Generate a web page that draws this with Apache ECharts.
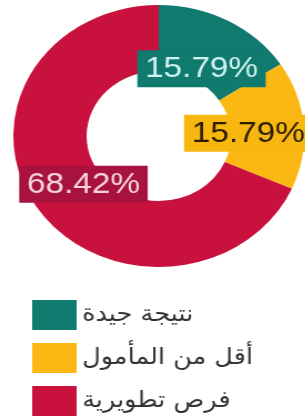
<!DOCTYPE html>
<html><head><meta charset="utf-8">
<script src="https://cdn.jsdelivr.net/npm/echarts@6/dist/echarts.min.js"></script>
<style>
html,body{margin:0;padding:0;background:#fff;overflow:hidden;}
#c{width:275px;height:419px;transform:scaleX(1.11);transform-origin:0 0;}
</style></head>
<body><div id="c"></div>
<script>
const categories = ['نتيجة جيدة', 'أقل من المأمول', 'فرص تطويرية'];
const values = [15.79, 15.79, 68.42];
const colors = ['#117a6f', '#fbb812', '#c8113d'];
const labelBg = ['#117a6f', '#f8b70f', '#a8123e'];
const labelText = ['#cdf4ef', '#2a1c05', '#f6d3de'];

const chart = echarts.init(document.getElementById('c'));
const ringData = categories.map((n, i) => ({name: n, value: values[i], itemStyle: {color: colors[i]}}));
const labelData = categories.map((n, i) => ({
  name: n, value: values[i],
  label: {backgroundColor: labelBg[i], color: labelText[i]}
}));
chart.setOption({
  animation: false,
  legend: {
    orient: 'vertical', left: 29, top: 300, padding: 0,
    itemWidth: 40, itemHeight: 30, itemGap: 13,
    icon: 'rect',
    textStyle: {fontFamily: 'DejaVu Sans', fontSize: 23, color: '#333'},
    data: categories
  },
  series: [
    {
      type: 'pie', center: [143, 136], radius: [65, 131],
      startAngle: 90, clockwise: true,
      label: {show: false}, labelLine: {show: false},
      itemStyle: {borderWidth: 0},
      data: ringData, silent: true
    },
    {
      type: 'pie', center: [143, 140], radius: [58, 98],
      startAngle: 90, clockwise: true,
      itemStyle: {color: 'rgba(0,0,0,0)'},
      label: {show: true, position: 'inside', formatter: p => p.value.toFixed(2) + '%',
        fontFamily: 'Liberation Sans', fontSize: 30, padding: [4, 7, 3, 7]},
      labelLine: {show: false},
      data: labelData, silent: true, legendHoverLink: false
    }
  ]
});
</script></body></html>
